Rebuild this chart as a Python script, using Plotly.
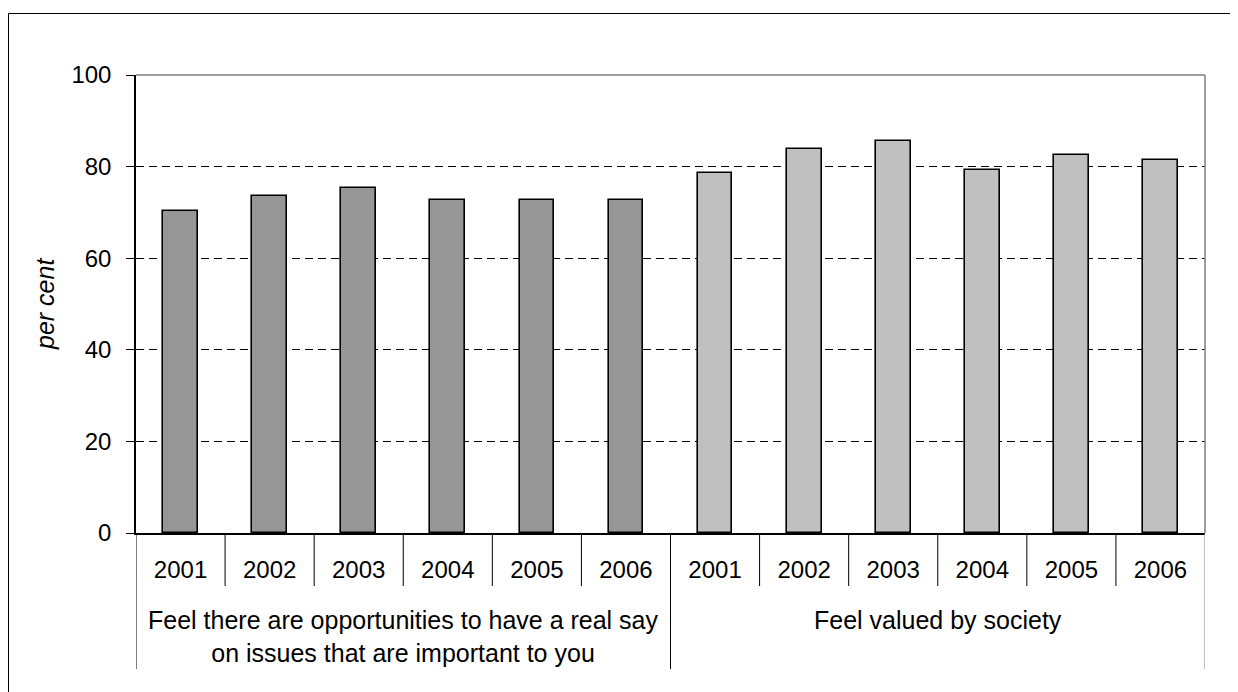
import plotly.graph_objects as go

# data
groups = [
    "Feel there are opportunities to have a real say<br>on issues that are important to you",
    "Feel valued by society",
]
years = ["2001", "2002", "2003", "2004", "2005", "2006"]
say_values = [70.2, 73.6, 75.3, 72.7, 72.7, 72.7]
valued_values = [78.5, 83.9, 85.5, 79.3, 82.6, 81.4]
y_ticks = [0, 20, 40, 60, 80, 100]

# figure geometry (pixels, figure coords; the page adds an 8px body margin)
W, H = 1238, 692
L, R, T, B = 128, 41, 67, 167
PW, PH = W - L - R, H - T - B
FONT = "Liberation Sans, Arial, sans-serif"
FS = 24


def px_x(px):
    return (px - L) / PW


def px_y(py):
    return (H - B - py) / PH


n = len(years)
pos_say = list(range(n))
pos_valued = list(range(n, 2 * n))

fig = go.Figure()
fig.add_trace(go.Bar(x=pos_say, y=say_values, width=0.39,
                     marker=dict(color="#969696", line=dict(color="black", width=1.6))))
fig.add_trace(go.Bar(x=pos_valued, y=valued_values, width=0.39,
                     marker=dict(color="#c0c0c0", line=dict(color="black", width=1.6))))

shapes = []
# outer frame (top and left visible, rest runs off the page)
shapes.append(dict(type="rect", xref="paper", yref="paper",
                   x0=px_x(0.5), x1=px_x(W + 20), y0=px_y(H + 20), y1=px_y(5.5),
                   line=dict(color="black", width=1), layer="below"))
# gray plot frame top/right
shapes.append(dict(type="line", xref="paper", yref="paper", x0=0, x1=1, y0=1, y1=1,
                   line=dict(color="#808080", width=1.5)))
shapes.append(dict(type="line", xref="paper", yref="paper", x0=1, x1=1, y0=0, y1=1,
                   line=dict(color="#808080", width=1.5)))
# year dividers below the axis
for i in range(2 * n + 1):
    edge = i - 0.5
    long_ = i % n == 0
    shapes.append(dict(type="line", xref="x", yref="paper", x0=edge, x1=edge,
                       y0=0, y1=px_y(661 if long_ else 578),
                       line=dict(color="#808080" if i == 2 * n else "black", width=1)))

annotations = []
for gi, g in enumerate(groups):
    annotations.append(dict(x=gi * n + (n - 1) / 2, xref="x", y=px_y(596), yref="paper",
                            text=g, showarrow=False, yanchor="top",
                            font=dict(family=FONT, size=25, color="black")))
annotations.append(dict(x=px_x(37), xref="paper", y=0.5, yref="paper",
                        xanchor="center", yanchor="middle",
                        text="<i>per cent</i>", showarrow=False, textangle=-90,
                        font=dict(family=FONT, size=25, color="black")))

fig.update_layout(
    width=W, height=H,
    margin=dict(l=L, r=R, t=T, b=B, pad=0),
    paper_bgcolor="white", plot_bgcolor="white",
    showlegend=False, bargap=0,
    font=dict(family=FONT, size=FS, color="black"),
    shapes=shapes, annotations=annotations,
    xaxis=dict(range=[-0.5, 2 * n - 0.5], tickvals=pos_say + pos_valued,
               ticktext=years + years, ticks="", showgrid=False,
               showline=True, linecolor="black", linewidth=1.5,
               ticklabelstandoff=14, tickfont=dict(size=FS), fixedrange=True),
    yaxis=dict(range=[0, 100], tickvals=y_ticks, ticks="outside", ticklen=8,
               tickcolor="black", showline=True, linecolor="black", linewidth=1.5,
               showgrid=True, gridcolor="black", gridwidth=1, griddash="8px,5px",
               zeroline=False, tickfont=dict(size=FS), ticklabelstandoff=10),
)

fig.write_html("out.html")
